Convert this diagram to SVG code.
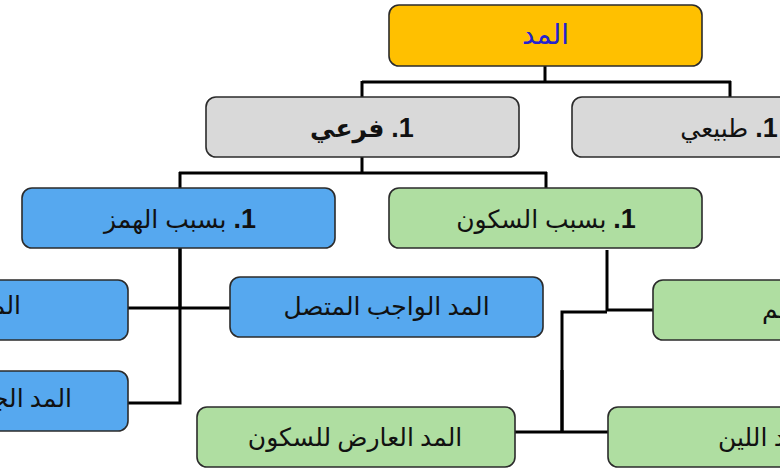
<svg xmlns="http://www.w3.org/2000/svg" width="780" height="470" viewBox="0 0 780 470">
<style>
.box{stroke:#2b2b2b;stroke-width:1.6}
.gold{fill:#FFC000}
.gray{fill:#D9D9D9}
.blue{fill:#56A8EF}
.green{fill:#AFDEA1}
.t{font-family:"Liberation Serif","DejaVu Sans",serif;font-size:25px;fill:#111}
.h{font-family:"Liberation Sans","DejaVu Sans",sans-serif;font-size:25px;fill:#111}
.num{font-weight:bold;font-size:27px}
.con{stroke:#000;fill:none;stroke-width:3}
</style>
<rect width="780" height="470" fill="#fff"/>
<g id="connectors">
<path class="con" d="M545,66 V82 M362,82 H731 M362,81 V97 M730,81 V97"/>
<path class="con" d="M362,157 V173 M179,173 H547 M180,172 V188 M546,172 V188"/>
<path class="con" d="M180,248 V403 H128 M128,308 H230" />
<path class="con" d="M180,248 V308" stroke-width="4.5"/>
<path class="con" d="M607,250 V311" stroke-width="5"/>
<path class="con" d="M607,310 H653 M607,312 H562 V433 M515,432 H608"/>
<path class="con" d="M562,370 V433" stroke-width="5"/>
</g>
<g id="n-madd"><rect class="box gold" x="389" y="5" width="313" height="61" rx="10"/><text x="545.5" y="44" text-anchor="middle" style="font-family:'Liberation Serif','DejaVu Sans',serif;font-size:28px;fill:#2323CF">المد</text></g>
<g id="n-far"><rect class="box gray" x="206" y="97" width="313" height="60" rx="10"/><text class="h" x="362" y="137" text-anchor="middle" direction="rtl" font-weight="bold"><tspan class="num">1.</tspan> فرعي</text></g>
<g id="n-tab"><rect class="box gray" x="572" y="97" width="313" height="60" rx="10"/><text class="h" x="729" y="137" text-anchor="middle" direction="rtl"><tspan class="num">1.</tspan> طبيعي</text></g>
<g id="n-hamz"><rect class="box blue" x="22" y="188" width="313" height="60" rx="10"/><text class="h" x="180" y="228" text-anchor="middle" direction="rtl"><tspan class="num">1.</tspan> بسبب الهمز</text></g>
<g id="n-sukun"><rect class="box green" x="389" y="188" width="313" height="60" rx="10"/><text class="h" x="546" y="228" text-anchor="middle" direction="rtl"><tspan class="num">1.</tspan> بسبب السكون</text></g>
<g id="n-wajib"><rect class="box blue" x="230" y="277" width="313" height="60" rx="10"/><text class="t" x="386.5" y="315" text-anchor="middle">المد الواجب المتصل</text></g>
<g id="n-left1"><rect class="box blue" x="-185" y="280" width="313" height="60" rx="10"/><text class="t" x="21" y="314" text-anchor="end">المـ</text></g>
<g id="n-left2"><rect class="box blue" x="-185" y="371" width="313" height="60" rx="10"/><text class="t" x="72" y="407" text-anchor="end">المد الجـ</text></g>
<g id="n-lazim"><rect class="box green" x="653" y="280" width="313" height="60" rx="10"/><text class="t" x="762" y="318" text-anchor="start">ـــم</text></g>
<g id="n-arid"><rect class="box green" x="197" y="407" width="318" height="60" rx="10"/><text class="t" x="355" y="446" text-anchor="middle">المد العارض للسكون</text></g>
<g id="n-lin"><rect class="box green" x="608" y="407" width="313" height="60" rx="10"/><text class="t" x="718" y="446" text-anchor="start">ـد اللين</text></g>
</svg>
